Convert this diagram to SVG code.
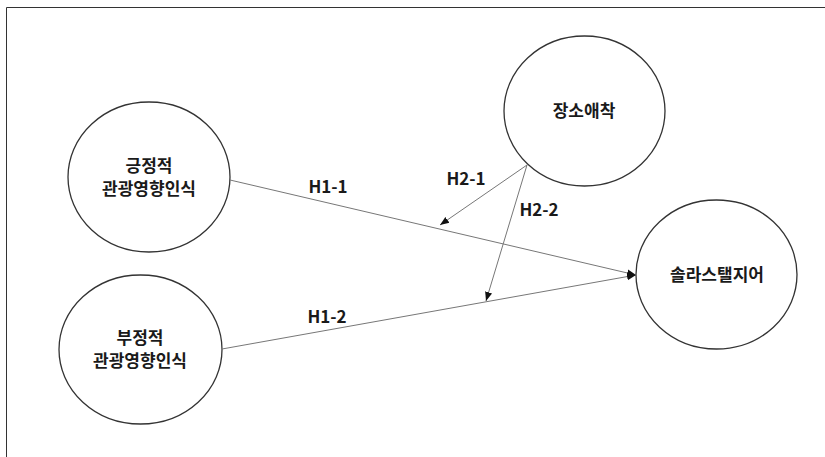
<svg xmlns="http://www.w3.org/2000/svg" width="825" height="457" viewBox="0 0 825 457">
<style>
.node ellipse{fill:#fff;stroke:#333;stroke-width:1.3}
.node text{font-family:"Noto Sans CJK KR","Noto Sans",sans-serif;font-size:17px;font-weight:700;fill:#1a1a1a;text-anchor:middle}
.lbl{font-family:"Noto Sans CJK KR","Noto Sans",sans-serif;font-size:17px;font-weight:700;fill:#1a1a1a;text-anchor:middle}
.conn line{stroke:#777;stroke-width:1;marker-end:url(#arr)}
</style>
<defs>
<marker id="arr" viewBox="0 0 10 10" refX="10" refY="5" markerWidth="9" markerHeight="9" markerUnits="userSpaceOnUse" orient="auto">
<path d="M0,1 L10,5 L0,9 Z" fill="#111"/>
</marker>
</defs>
<rect width="825" height="457" fill="#fff"/>
<path d="M6.5,457 V7.5 H825" fill="none" stroke="#333" stroke-width="1"/>
<g id="n-positive" class="node">
<ellipse cx="149" cy="177" rx="81" ry="75"/>
<text x="149" y="172">긍정적</text>
<text x="149" y="195">관광영향인식</text>
</g>
<g id="n-negative" class="node">
<ellipse cx="140.5" cy="349.5" rx="81.5" ry="74.5"/>
<text x="140" y="344">부정적</text>
<text x="140" y="367">관광영향인식</text>
</g>
<g id="n-attach" class="node">
<ellipse cx="584.5" cy="111" rx="80.5" ry="75"/>
<text x="584" y="117">장소애착</text>
</g>
<g id="n-solastalgia" class="node">
<ellipse cx="716.5" cy="274.5" rx="80.5" ry="74.5"/>
<text x="717" y="281">솔라스탤지어</text>
</g>
<g id="connectors" class="conn">
<line x1="230" y1="180" x2="636" y2="275"/>
<line x1="222" y1="349" x2="636" y2="275"/>
<line x1="527" y1="165" x2="440" y2="225"/>
<line x1="527" y1="165" x2="486" y2="301"/>
</g>
<g id="labels">
<text class="lbl" x="328" y="193">H1-1</text>
<text class="lbl" x="327" y="323">H1-2</text>
<text class="lbl" x="466" y="185">H2-1</text>
<text class="lbl" x="539" y="216">H2-2</text>
</g>
</svg>
